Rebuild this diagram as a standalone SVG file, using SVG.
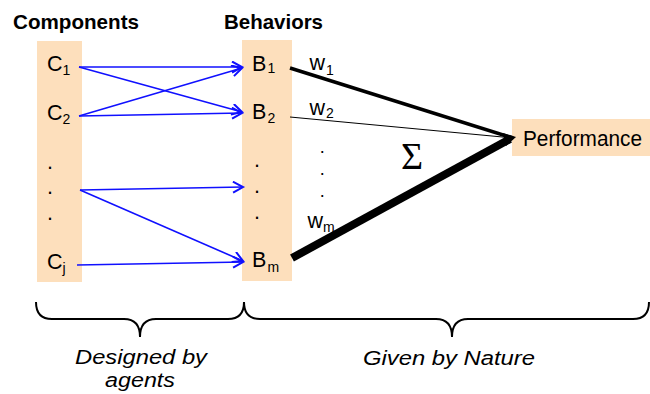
<svg xmlns="http://www.w3.org/2000/svg" width="650" height="394" viewBox="0 0 650 394">
<style>
text{font-family:"Liberation Sans",Arial,Helvetica,sans-serif;fill:#000}
.hd{font-size:20.5px;font-weight:bold}
.lb{font-size:21.5px}
.dt{font-size:18px}
.sb{font-size:14px}
.it{font-size:20px;font-style:italic}
.col{fill:#fddfbc}
.ar{stroke:#1010ff;stroke-width:1.6;fill:none}
.wt{stroke:#000;fill:none}
.br{stroke:#000;stroke-width:2;fill:none}
</style>
<defs>
<marker id="ah" markerUnits="userSpaceOnUse" markerWidth="14" markerHeight="14" refX="11" refY="6" orient="auto">
<path d="M1,0.5 L11,6 L1,11.5" stroke="#1010ff" stroke-width="2" fill="none"/>
</marker>
</defs>
<text class="hd" x="13" y="29" textLength="126" lengthAdjust="spacingAndGlyphs">Components</text>
<text class="hd" x="224" y="29" textLength="99" lengthAdjust="spacingAndGlyphs">Behaviors</text>
<g id="components">
<rect class="col" x="37" y="41" width="45" height="241"/>
<text class="lb" x="47" y="71">C</text><text class="sb" x="62.5" y="75">1</text>
<text class="lb" x="47" y="120">C</text><text class="sb" x="62.5" y="124">2</text>
<text class="lb" x="47" y="168.5">.</text>
<text class="lb" x="47" y="193.5">.</text>
<text class="lb" x="47" y="219.5">.</text>
<text class="lb" x="47" y="269">C</text><text class="sb" x="62.5" y="273">j</text>
</g>
<g id="behaviors">
<rect class="col" x="242" y="40" width="50" height="241"/>
<text class="lb" x="252" y="71">B</text><text class="sb" x="267.5" y="73">1</text>
<text class="lb" x="252" y="119">B</text><text class="sb" x="267.5" y="123">2</text>
<text class="lb" x="254" y="166.5">.</text>
<text class="lb" x="254" y="192.5">.</text>
<text class="lb" x="254" y="218.5">.</text>
<text class="lb" x="252" y="267">B</text><text class="sb" x="267.5" y="272">m</text>
</g>
<g id="performance">
<rect class="col" x="512" y="119" width="138" height="37"/>
<text class="lb" x="523" y="146" textLength="119" lengthAdjust="spacingAndGlyphs">Performance</text>
</g>
<g id="connectors">
<line class="ar" x1="79" y1="67" x2="242" y2="67" marker-end="url(#ah)"/>
<line class="ar" x1="79" y1="67" x2="242" y2="112" marker-end="url(#ah)"/>
<line class="ar" x1="79" y1="116" x2="242" y2="68" marker-end="url(#ah)"/>
<line class="ar" x1="79" y1="116" x2="242" y2="113" marker-end="url(#ah)"/>
<line class="ar" x1="80" y1="190" x2="243" y2="187" marker-end="url(#ah)"/>
<line class="ar" x1="80" y1="190" x2="243" y2="261" marker-end="url(#ah)"/>
<line class="ar" x1="77" y1="265" x2="243" y2="262" marker-end="url(#ah)"/>
<line class="wt" x1="290" y1="68" x2="513" y2="138" stroke-width="3.5"/>
<line class="wt" x1="290" y1="117" x2="513" y2="138" stroke-width="1"/>
<line class="wt" x1="292" y1="258" x2="510" y2="139" stroke-width="8"/>
<polygon points="503,133 516,137 506,146" fill="#000"/>
</g>
<g id="weights">
<text class="lb" x="309.5" y="70">w</text><text class="sb" x="326" y="75">1</text>
<text class="lb" x="309.5" y="115">w</text><text class="sb" x="326" y="118">2</text>
<text class="dt" x="319.8" y="153">.</text>
<text class="dt" x="319.8" y="174.5">.</text>
<text class="dt" x="319.8" y="197">.</text>
<text class="lb" x="307.5" y="228">w</text><text class="sb" x="323" y="232">m</text>
<text x="401" y="169" style="font-family:'Liberation Serif','Times New Roman',serif;font-size:38px">Σ</text>
</g>
<g id="braces">
<path class="br" d="M36,302 Q36,319 52,319 L124,319 Q140,319 140,337 Q140,319 156,319 L228,319 Q244,319 244,302"/>
<path class="br" d="M244,302 Q244,319 260,319 L436,319 Q452,319 452,337 Q452,319 468,319 L633,319 Q649,319 649,302"/>
<text class="it" x="75" y="364" textLength="132" lengthAdjust="spacingAndGlyphs">Designed by</text>
<text class="it" x="105" y="387" textLength="70" lengthAdjust="spacingAndGlyphs">agents</text>
<text class="it" x="363" y="365" textLength="172" lengthAdjust="spacingAndGlyphs">Given by Nature</text>
</g>
</svg>
